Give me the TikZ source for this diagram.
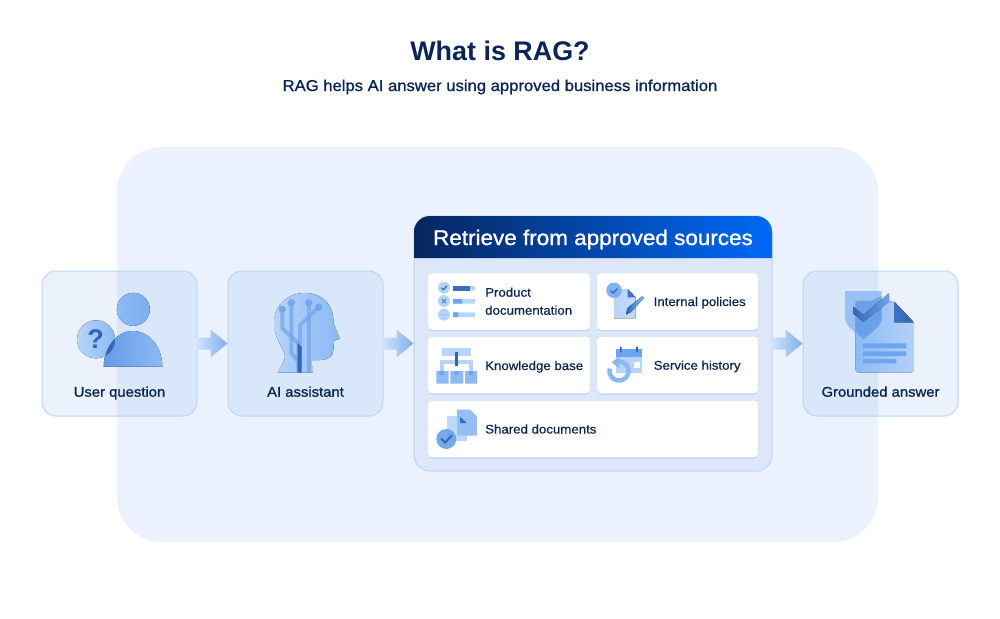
\documentclass[tikz,border=0pt]{standalone}
\usepackage{fontspec}
\usetikzlibrary{calc,shadows}
\setmainfont{Liberation Sans}
\newfontfamily\medfont[FakeBold=1.2,FakeStretch=1.06]{Liberation Sans}
\newfontfamily\regfont[FakeBold=0.5,FakeStretch=1.06]{Liberation Sans}
\definecolor{ink}{HTML}{0B2655}
\definecolor{panel}{HTML}{EBF2FD}
\definecolor{glass}{HTML}{4187EB}
\definecolor{edge}{HTML}{BAD5F8}
\definecolor{body}{HTML}{DCE8FA}
\definecolor{dark}{HTML}{2F66B8}
\definecolor{midb}{HTML}{6FA5EE}
\definecolor{soft}{HTML}{8DBAF5}
\definecolor{pale}{HTML}{B7D4F9}
\definecolor{headl}{HTML}{06265E}
\definecolor{headm}{HTML}{0450BE}
\definecolor{headr}{HTML}{0069F7}
\tikzset{
  x=1pt,y=-1pt,
  glassbox/.style={draw=edge,line width=1pt,fill=glass,fill opacity=.1,text opacity=1,rounded corners=14pt,minimum width=155pt,minimum height=145pt,inner sep=0pt},
  srccard/.style={fill=white,rounded corners=4pt,inner sep=0pt,minimum height=56.5pt,drop shadow={shadow xshift=0pt,shadow yshift=-1.5pt,opacity=.14,fill=dark}},
  boxlabel/.style={anchor=base,text=ink,font=\medfont\fontsize{14}{17}\selectfont,inner sep=0pt},
  cardlabel/.style={anchor=base west,text=ink,font=\regfont\fontsize{12.5}{18}\selectfont,inner sep=0pt},
  flowtip/.style={left color=body,right color=midb!90!white,draw=none},
}
\newcommand{\flowarrow}[2]{%
  \path[flowtip] ($(#1.east)+(-4,-6)$) -- ($(#2.west)+(-17,-6)$) -- ($(#2.west)+(-17,-14)$) -- (#2.west) -- ($(#2.west)+(-17,14)$) -- ($(#2.west)+(-17,6)$) -- ($(#1.east)+(-4,6)$) -- cycle;}
\begin{document}
\begin{tikzpicture}
\useasboundingbox[fill=white] (0,0) rectangle (1000,618);
% big panel
\node[fill=panel,rounded corners=45pt,minimum width=761pt,minimum height=395pt,inner sep=0pt] (bigpanel) at (497.5,344.5) {};
% title
\node[anchor=base,text=ink,inner sep=0pt] (title) at (500,60) {\fontsize{26.9}{30}\selectfont\bfseries What is RAG?};
\node[anchor=base,text=ink,inner sep=0pt] (subtitle) at (500,91) {\medfont\fontsize{15.7}{19}\selectfont RAG helps AI answer using approved business information};
% three boxes
\node[glassbox] (user) at (119.5,343.5) {};
\node[glassbox] (ai) at (305.5,343.5) {};
\node[glassbox] (grounded) at (880.5,343.5) {};
\node[boxlabel] (userlab) at (119.5,396.7) {User question};
\node[boxlabel] (ailab) at (305.5,396.7) {AI assistant};
\node[boxlabel] (groundedlab) at (880.5,396.7) {Grounded answer};
% sources panel
\node[draw=edge,line width=1pt,fill=body,rounded corners=16pt,minimum width=358pt,minimum height=255pt,inner sep=0pt] (sources) at (593,343.5) {};
\path[left color=headl,middle color=headm,right color=headr] (414,258) [rounded corners=16pt] -- (414,216) -- (772,216) [sharp corners] -- (772,258) -- cycle;
\node[anchor=base,text=white,inner sep=0pt] (srctitle) at (593,245) {\medfont\fontsize{21.2}{24}\selectfont Retrieve from approved sources};
% cards
\node[srccard,minimum width=162pt] (c1) at (509,301.5) {};
\node[srccard,minimum width=161pt] (c2) at (677.5,301.5) {};
\node[srccard,minimum width=162pt] (c3) at (509,365) {};
\node[srccard,minimum width=161pt] (c4) at (677.5,365) {};
\node[srccard,minimum width=330pt] (c5) at (593,429) {};
\node[cardlabel] (l1a) at (485,296.7) {Product};
\node[cardlabel] (l1b) at (485,314.7) {documentation};
\node[cardlabel] (l2) at (653.5,306) {Internal policies};
\node[cardlabel] (l3) at (485,370) {Knowledge base};
\node[cardlabel] (l4) at (653.5,369.7) {Service history};
\node[cardlabel] (l5) at (485,433.5) {Shared documents};
% arrows
\flowarrow{user}{ai}
\flowarrow{ai}{sources}
\flowarrow{sources}{grounded}
% --- user icon
\fill[left color=soft,right color=midb!90!white] (133.3,309.3) circle (16.5);
\def\bodypath{(103.7,366.7) .. controls (103.7,347) and (117,331) .. (133,331) .. controls (149,331) and (162.3,347) .. (162.3,366.7) -- cycle}
\fill[left color=midb!85!dark,right color=soft] \bodypath;
\fill[left color=pale,right color=soft] (96,339.3) circle (19);
\begin{scope}
\clip (96,339.3) circle (19);
\fill[dark] \bodypath;
\end{scope}
\node[inner sep=0pt,text=dark] (qmark) at (95.5,339) {\fontsize{27}{27}\selectfont\bfseries ?};
% --- head icon
\fill[left color=pale,right color=soft!90!midb] (278.3,372.7) -- (285,358) .. controls (286,350) and (274,340) .. (274,323) .. controls (274,305) and (288,293) .. (305,293) .. controls (323,293) and (333.5,305) .. (333.5,323) -- (339.7,338.7) -- (334,341) -- (333.3,350) .. controls (333,357) and (328,360) .. (320,360) -- (311.7,360) -- (312.3,372.7) -- cycle;
\begin{scope}[line width=4pt,draw=midb,draw opacity=.7,fill=midb,line join=round]
\draw (282.3,309.3) -- (282.3,328.3) -- (298.3,343.3) -- (298.3,372.7);
\draw (291.3,302.7) -- (291.3,353.3) -- (299,362) -- (299,372.7);
\draw (308.7,302.7) -- (308.7,372.7);
\draw (318.7,307.3) -- (300,325) -- (300,372.7);
\fill[fill opacity=.9] (282.3,309.3) circle (3.7) (291.3,302.7) circle (3.7) (308.7,302.7) circle (3.7) (318.7,307.3) circle (3.7);
\end{scope}
\fill[dark] (297.5,343) -- (301.7,347) -- (301.7,372.7) -- (297.5,372.7) -- cycle;
% --- list icon
\fill[pale] (444,287.7) circle (6) (444,301) circle (6) (444,314.7) circle (6);
\draw[dark,line width=1.2pt] (441.3,287.7) -- (443.4,289.8) -- (447,285.8);
\draw[midb!70!dark,line width=1.4pt] (441.8,298.8) -- (446.2,303.2) (446.2,298.8) -- (441.8,303.2);
\fill[midb] (441.5,314.7) circle (.6) (444,314.7) circle (.6) (446.5,314.7) circle (.6);
\fill[pale] (453,286) rectangle (475,290.5) (453,299) rectangle (475,303.7) (453,312.3) rectangle (475,317);
\fill[dark!85!midb] (453,286) rectangle (470,290.5);
\fill[midb] (453,299) rectangle (462,303.7) (453,312.3) rectangle (458.3,317);
% --- policy icon
\fill[left color=pale,right color=pale!85!white] (614,289) -- (627.7,289) -- (635.7,297.3) -- (635.7,318.3) -- (614,318.3) -- cycle;
\fill[dark!80!midb] (627.7,289) -- (635.7,297.3) -- (627.7,297.3) -- cycle;
\fill[midb,fill opacity=.85] (614,290.3) circle (7.7);
\draw[dark,line width=1.3pt] (610.5,290.5) -- (613,293) -- (617.5,288.5);
\fill[left color=dark,right color=soft] (626,314.5) -- (627.5,308) -- (642.5,296) -- (644,298) -- (631,312) -- cycle;
% --- hierarchy icon
\fill[pale] (441.7,347.7) rectangle (471,355.7);
\draw[pale,line width=4pt] (441.5,373) -- (441.5,361.7) -- (471,361.7) -- (471,373);
\fill[soft] (436.3,371) rectangle (448.7,383.7) (450.3,371) rectangle (463.3,383.7) (465,371) rectangle (477,383.7);
\fill[midb] (439.5,371) rectangle (443.5,375) (455,371) rectangle (458.5,375) (469,371) rectangle (473,375);
\fill[dark] (454.7,352) rectangle (458.3,365.7);
% --- history icon
\fill[pale] (616,349.3) rectangle (642,372.7);
\fill[midb] (616,349.3) rectangle (642,356.7);
\fill[dark] (620,346.7) rectangle (621.7,352.3) (636.2,346.7) rectangle (638,352.3);
\fill[white] (633.7,361.7) rectangle (640,367.7);
\draw[soft,line width=4.5pt,fill=none,smooth,domain=-90:195,samples=30] plot ({619+9.5*cos(\x)},{371+9.5*sin(\x)});
\fill[soft!80!midb] (619.3,356.7) -- (611.7,362.3) -- (619.3,368.3) -- cycle;
% --- shared docs icon
\fill[pale!90!white] (447.3,415.7) rectangle (467,441);
\fill[soft!85!pale] (457,409.7) -- (470,409.7) -- (477,416.7) -- (477,435.7) -- (457,435.7) -- cycle;
\fill[dark!90!midb] (460,416.7) -- (466.7,423) -- (460,423) -- cycle;
\fill[midb!90!dark,fill opacity=.9] (446.3,439) circle (10);
\draw[dark,line width=1.8pt] (441,438.5) -- (445,442.5) -- (452,435.5);
% --- grounded icon
\fill[left color=soft,right color=pale!90!soft,rounded corners=2pt] (855.7,301.7) -- (894.3,301.7) -- (913.7,322.3) -- (913.7,372.3) -- (855.7,372.3) -- cycle;
\fill[left color=dark!80!midb,right color=dark] (894.3,301.7) -- (913.7,322.3) -- (894.3,322.3) -- cycle;
\fill[midb] (863,343.3) rectangle (906.3,348.3) (863,351.3) rectangle (906.3,356) (863,359) rectangle (896.3,363.3);
\fill[midb,fill opacity=.6] (845,291) -- (881.7,291) -- (881.7,318) .. controls (881.7,326) and (872,332) .. (863.3,339.3) .. controls (855,332) and (845,326) .. (845,318) -- cycle;
\fill[midb!80!dark,fill opacity=.65] (855.7,302) .. controls (860,301) and (866,301) .. (870,301) -- (881.7,296) -- (881.7,318) .. controls (881.7,326) and (872,332) .. (863.3,339.3) .. controls (859,335) and (855.7,330) .. (855.7,326) -- cycle;
\fill[left color=dark,right color=midb] (853,306.7) -- (863.3,315) -- (889,293.3) -- (889,301.7) -- (863.3,321.7) -- (853,313.3) -- cycle;
\end{tikzpicture}
\end{document}
